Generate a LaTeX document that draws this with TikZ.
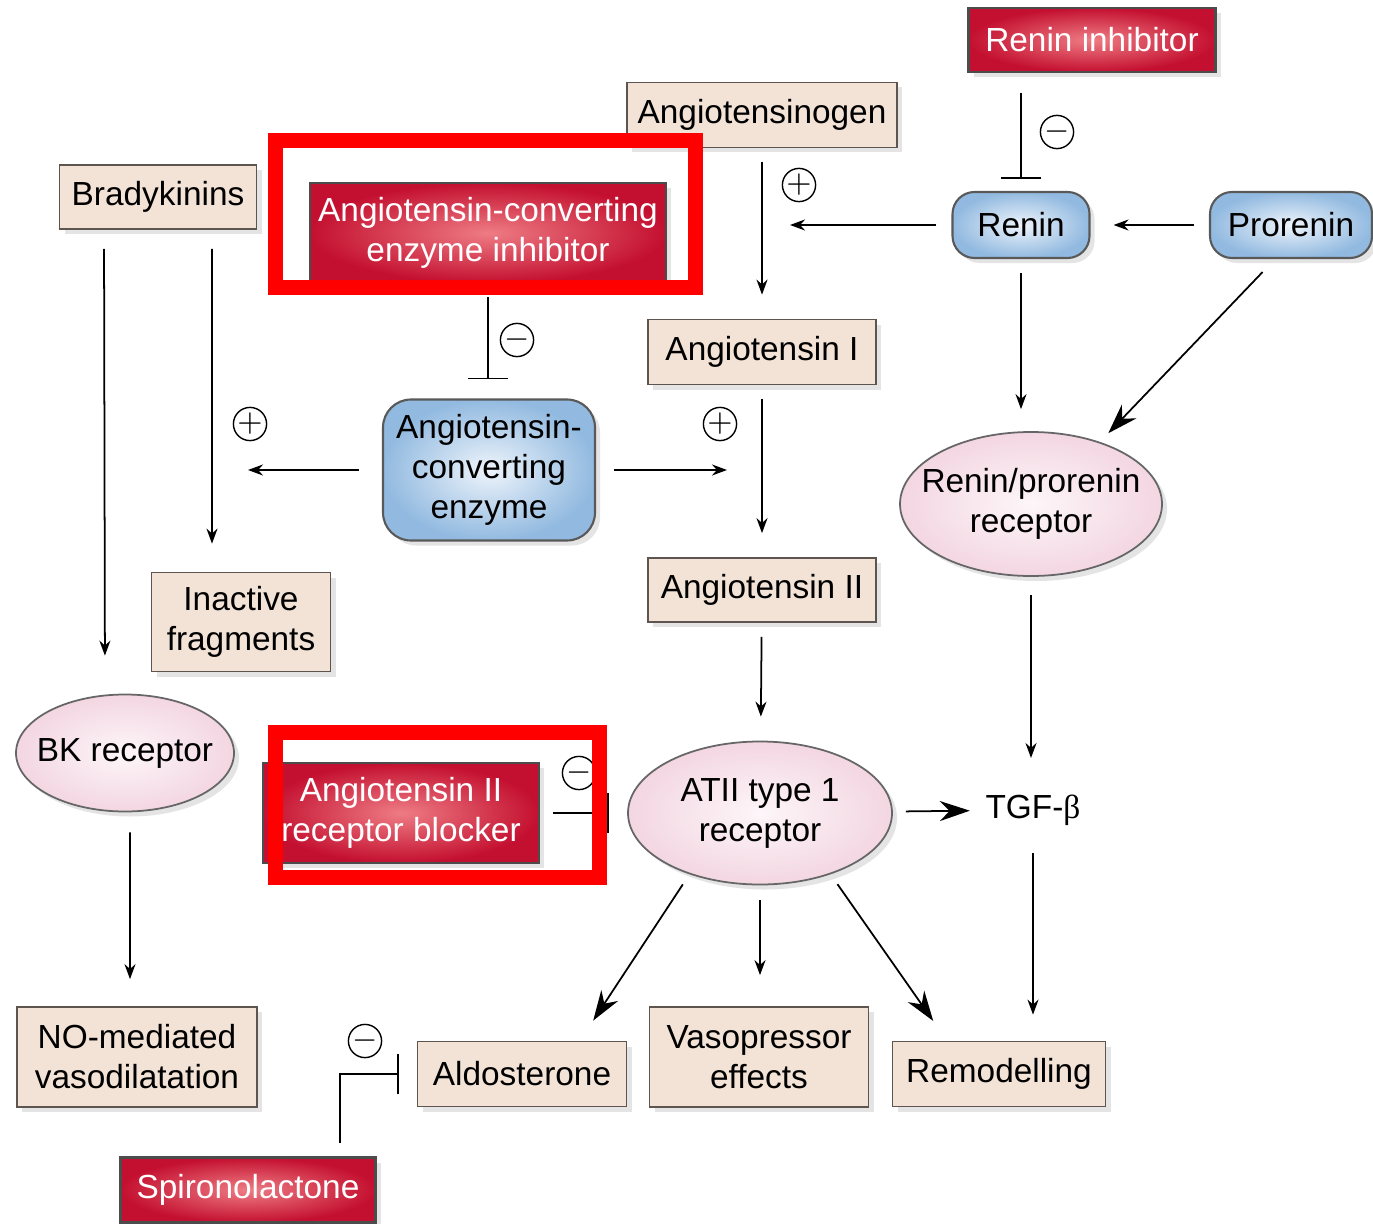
\documentclass[tikz,border=0pt]{standalone}
\usepackage{fontspec}
\setmainfont{Liberation Sans}
\newfontfamily\grkfont{Liberation Serif}
\usetikzlibrary{arrows.meta,positioning,shapes.geometric,shadows}

\definecolor{tanfill}{RGB}{243,227,214}
\definecolor{tanline}{RGB}{95,85,80}
\definecolor{drugdark}{RGB}{196,16,48}
\definecolor{druglight}{RGB}{238,124,132}
\definecolor{enzout}{RGB}{146,186,224}
\definecolor{enzin}{RGB}{238,244,251}
\definecolor{recout}{RGB}{243,214,225}
\definecolor{recin}{RGB}{253,246,249}
\definecolor{markred}{RGB}{255,0,0}

\begin{document}
\begin{tikzpicture}[
    x=0.1mm, y=-0.1mm,
    font=\fontsize{9.5}{11.4}\selectfont,
    every node/.style={align=center, inner sep=0pt},
    soft/.style={drop shadow={shadow xshift=0.5mm, shadow yshift=-0.5mm,
                fill=black!30, opacity=0.35}},
    molbox/.style={draw=tanline, fill=tanfill, line width=0.5pt, soft},
    drug/.style={draw=black!70, inner color=druglight, outer color=drugdark,
                text=white, line width=0.6pt, soft},
    enzyme/.style={draw=black!65, rounded corners=2.2mm, inner color=enzin,
                outer color=enzout, line width=0.6pt, soft},
    recep/.style={ellipse, draw=black!60, inner color=recin, outer color=recout,
                inner xsep=-4mm, line width=0.5pt, soft},
    arr/.style={-{Stealth[length=1.5mm,width=1.1mm]}, line width=0.5pt},
    bigarr/.style={-{Stealth[length=3mm,width=2mm]}, line width=0.5pt},
    inhib/.style={-{Bar[width=4mm]}, line width=0.5pt},
    signminus/.style={circle, draw, line width=0.4pt, minimum size=3.2mm, font=\small},
    signplus/.style={signminus}
]

\fill[white] (0,0) rectangle (1373,1223);
\useasboundingbox (0,0) rectangle (1373,1223);

\node[drug, minimum width=24.7mm, minimum height=6.4mm] (renininh) at (1092,40)
    {Renin inhibitor};

\node[molbox, minimum width=27mm, minimum height=6.5mm] (angen) at (762,115)
    {Angiotensinogen};

\node[molbox, minimum width=19.7mm, minimum height=6.4mm] (brady) at (158,197)
    {Bradykinins};

\node[drug, minimum width=35.6mm, minimum height=10mm] (aceinh) at (488,233)
    {Angiotensin-converting\\enzyme inhibitor};

\node[enzyme, minimum width=13.7mm, minimum height=6.6mm] (renin) at (1021,225)
    {Renin};

\node[enzyme, minimum width=16.2mm, minimum height=6.6mm] (prorenin) at (1291,225)
    {Prorenin};

\node[molbox, minimum width=22.8mm, minimum height=6.5mm] (angI) at (762,352)
    {Angiotensin I};

\node[enzyme, rounded corners=2.8mm, minimum width=21.2mm, minimum height=14.1mm] (ace) at (489,470)
    {Angiotensin-\\converting\\enzyme};

\node[recep, minimum width=26.2mm, minimum height=14.4mm] (prr) at (1031,504)
    {Renin/prorenin\\receptor};

\node[molbox, minimum width=17.9mm, minimum height=9.9mm] (inact) at (241,622)
    {Inactive\\fragments};

\node[molbox, minimum width=22.8mm, minimum height=6.4mm] (angII) at (762,590)
    {Angiotensin II};

\node[recep, minimum width=21.8mm, minimum height=11.7mm] (bk) at (125,753)
    {BK receptor};

\node[drug, minimum width=27.6mm, minimum height=10mm] (arb) at (401,813)
    {Angiotensin II\\receptor blocker};

\node[recep, minimum width=26.4mm, minimum height=14.3mm] (at1) at (760,813)
    {ATII type 1\\receptor};

\node (tgf) at (1033,810) {TGF-{\grkfont β}};

\node[molbox, minimum width=24mm, minimum height=10mm] (no) at (137,1057)
    {NO-mediated\\vasodilatation};

\node[molbox, minimum width=20.9mm, minimum height=6.5mm] (aldo) at (522,1074)
    {Aldosterone};

\node[molbox, minimum width=21.9mm, minimum height=10mm] (vaso) at (759,1057)
    {Vasopressor\\effects};

\node[molbox, minimum width=21.3mm, minimum height=6.5mm] (remod) at (999,1074)
    {Remodelling};

\node[drug, minimum width=25.5mm, minimum height=6.5mm] (spiro) at (248,1190)
    {Spironolactone};

\coordinate (jn1) at (angen |- renin);
\coordinate (jn2) at (angI |- ace);
\coordinate (jn3) at ([xshift=-2.9mm]inact.north |- ace);

\foreach \a/\b in {angen/angI,angI/angII,angII/at1}{
    \draw[arr, shorten <=1.4mm, shorten >=2.4mm] (\a) -- (\b);
}

\draw[inhib, shorten <=2mm, shorten >=1.2mm] (renininh.south -| renin.north) -- (renin);
\draw[arr, shorten <=1.5mm, shorten >=2.3mm] (prorenin) -- (renin);
\draw[arr, shorten <=1.5mm, shorten >=2.8mm] (renin) -- (jn1);
\draw[arr, shorten <=1.4mm, shorten >=2.2mm] (renin) -- (renin |- prr.north);
\draw[bigarr, shorten <=1.8mm, shorten >=1.2mm] ([xshift=-1.6mm]prorenin.south) -- (prr.42);

\draw[inhib, shorten <=1.3mm, shorten >=1.9mm] (aceinh) -- (aceinh |- ace.north);
\draw[arr, shorten <=1.8mm, shorten >=3.5mm] (ace) -- (jn2);
\draw[arr, shorten <=2.3mm, shorten >=3.6mm] (ace) -- (jn3);

\draw[arr, shorten <=1.9mm, shorten >=2.8mm] ([xshift=5.4mm]brady.south) -- ([xshift=-2.9mm]inact.north);
\draw[arr, shorten <=1.9mm, shorten >=3.8mm] ([xshift=-5.4mm]brady.south) -- ([xshift=-2mm]bk.north);
\draw[arr, shorten <=2mm, shorten >=2.7mm] ([xshift=0.5mm]bk.south) -- ([xshift=-0.7mm]no.north);

\draw[arr, shorten <=1.8mm, shorten >=3.6mm] (prr) -- (prr |- tgf.north);
\draw[bigarr, shorten <=1.3mm, shorten >=1.5mm] (at1) -- (tgf);
\draw[inhib, shorten <=1.3mm, shorten >=1.8mm] (arb) -- (at1);

\draw[bigarr, shorten <=1.2mm, shorten >=2.4mm] (at1.-139) -- ([xshift=5.8mm]aldo.north);
\draw[arr, shorten <=1.5mm, shorten >=3.1mm] (at1) -- (at1 |- vaso.north);
\draw[bigarr, shorten <=1.2mm, shorten >=2.4mm] (at1.-41) -- ([xshift=-5.2mm]remod.north);
\draw[arr, shorten <=2.7mm, shorten >=2.6mm] (tgf) -- (tgf |- remod.north);
\draw[inhib, shorten <=1.3mm, shorten >=1.8mm] ([xshift=9.2mm]spiro.north) |- (aldo);

\node[signminus] (m1) at (1057,132) {$-$};
\node[signplus] (p1) at (799,185) {$+$};
\node[signminus] (m2) at (517,340) {$-$};
\node[signplus] (p2) at (720,424) {$+$};
\node[signplus] (p3) at (250,424) {$+$};
\node[signminus] (m3) at (579,773) {$-$};
\node[signminus] (m4) at (365,1041) {$-$};

\draw[markred, line width=1.5mm] (275.5,140.5) rectangle (695.5,287.5);
\draw[markred, line width=1.5mm] (275.5,732.5) rectangle (599.5,877.5);

\end{tikzpicture}
\end{document}
